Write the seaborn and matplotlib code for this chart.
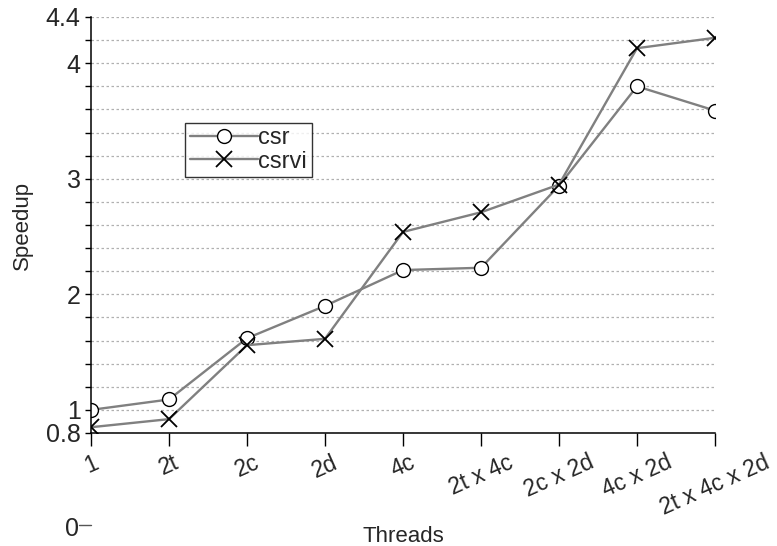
import numpy as np
import pandas as pd
import matplotlib
matplotlib.use("Agg")
import matplotlib.pyplot as plt
from matplotlib.ticker import MultipleLocator, FixedLocator
import seaborn as sns

threads = ["1", "2t", "2c", "2d", "4c", "2t x 4c", "2c x 2d", "4c x 2d", "2t x 4c x 2d"]
csr = [1.00, 1.09, 1.62, 1.90, 2.21, 2.23, 2.94, 3.80, 3.59]
csrvi = [0.85, 0.92, 1.56, 1.615, 2.54, 2.71, 2.95, 4.13, 4.22]
y_ticks = [0.8, 1, 2, 3, 4, 4.4]
y_ticklabels = ["0.8", "1", "2", "3", "4", "4.4"]


def main():
    sns.set_style("ticks")
    plt.rcParams["font.family"] = ["Liberation Sans", "DejaVu Sans"]

    df = pd.DataFrame({"threads": threads, "csr": csr, "csrvi": csrvi})

    fig = plt.figure(figsize=(7.77, 5.46), dpi=100)
    ax = fig.add_axes([91 / 777, 1 - 433 / 546, 624 / 777, 416 / 546])

    sns.lineplot(data=df, x="threads", y="csr", marker="o", label="csr",
                 color="#808080", linewidth=1.7, markersize=10,
                 markerfacecolor="white", markeredgecolor="black",
                 markeredgewidth=1.0, ax=ax)
    sns.lineplot(data=df, x="threads", y="csrvi", marker="x", label="csrvi",
                 color="#808080", linewidth=1.7, markersize=11,
                 markeredgecolor="black", markeredgewidth=1.3, ax=ax)

    ax.set_xlim(0, len(threads) - 1)
    ax.set_ylim(0.8, 4.4)
    ax.yaxis.set_major_locator(FixedLocator(y_ticks))
    ax.set_yticklabels(y_ticklabels)
    ax.yaxis.set_minor_locator(MultipleLocator(0.2))
    ax.yaxis.grid(True, which="both", linestyle=(0, (2, 2)), color="#b0b0b0", linewidth=0.9)
    ax.set_axisbelow(True)

    sns.despine(ax=ax)
    for side in ["left", "bottom"]:
        ax.spines[side].set_linewidth(1.1)
        ax.spines[side].set_color("black")

    ax.tick_params(axis="y", which="both", direction="out", length=4.5, width=1.0,
                   labelsize=18, pad=3, color="black")
    ax.tick_params(axis="x", direction="out", length=9, width=1.0, labelsize=16.5,
                   pad=4, color="black")
    for lbl in ax.get_xticklabels():
        lbl.set_rotation(24)
        lbl.set_ha("center")

    # stray zero tick below the axis, as in the original
    trans = matplotlib.transforms.blended_transform_factory(ax.transAxes, ax.transData)
    ax.plot([-0.019, 0.0], [0, 0], color="#555555", linewidth=1.0,
            transform=trans, clip_on=False)
    ax.text(-0.019, -0.03, "0", transform=trans, ha="right", va="center",
            fontsize=18, clip_on=False)

    ax.set_xlabel("Threads", fontsize=16)
    ax.set_ylabel("Speedup", fontsize=16)
    ax.xaxis.set_label_coords(0.5, (433 - 537) / 416)
    ax.xaxis.label.set_va("center")
    ax.yaxis.set_label_coords((22 - 91) / 624, 0.5)
    ax.yaxis.label.set_va("center")

    leg = ax.legend(loc="upper left", bbox_to_anchor=(0.151, 0.746), fontsize=17,
                    frameon=True, fancybox=False, handlelength=2.9,
                    handletextpad=0.0, borderpad=0.2, labelspacing=0.05,
                    borderaxespad=0)
    leg.get_frame().set_edgecolor("black")
    leg.get_frame().set_linewidth(1.0)

    fig.savefig("out.png", dpi=100)
    plt.close(fig)


if __name__ == "__main__":
    main()
